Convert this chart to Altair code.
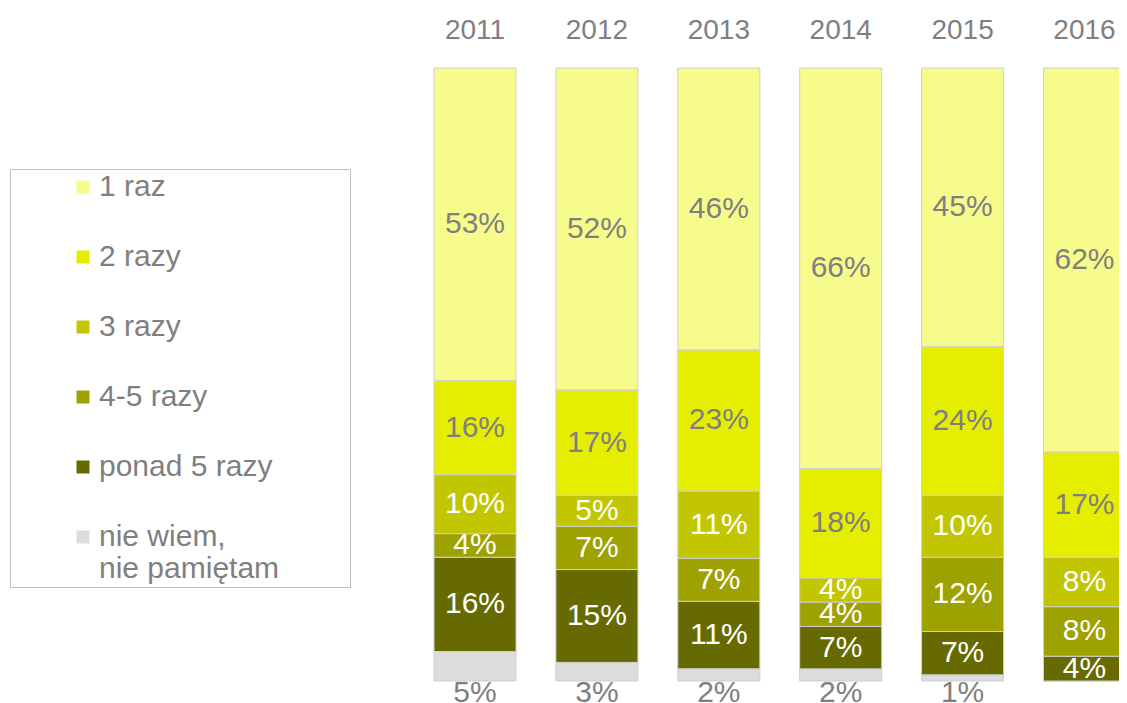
import altair as alt
import pandas as pd

years = ["2011", "2012", "2013", "2014", "2015", "2016"]
categories = ["1 raz", "2 razy", "3 razy", "4-5 razy", "ponad 5 razy", "nie wiem, nie pamiętam"]
v_1raz = [53, 52, 46, 66, 45, 62]
v_2razy = [16, 17, 23, 18, 24, 17]
v_3razy = [10, 5, 11, 4, 10, 8]
v_45razy = [4, 7, 7, 4, 12, 8]
v_ponad5 = [16, 15, 11, 7, 7, 4]
v_niewiem = [5, 3, 2, 2, 1, 0]
colors = ["#F7FB8C", "#E6EE00", "#C2C600", "#9EA200", "#666A00", "#DCDCDC"]

series = [v_1raz, v_2razy, v_3razy, v_45razy, v_ponad5, v_niewiem]
rows = []
for yi, yr in enumerate(years):
    vals = [s[yi] for s in series]
    total = float(sum(vals))
    cum = 0.0
    for ci in reversed(range(len(categories))):
        v = vals[ci]
        y0 = cum / total
        cum += v
        y1 = cum / total
        rows.append(dict(year=yr, cat=categories[ci], v=v, y0=y0, y1=y1,
                         mid=(y0 + y1) / 2, label=f"{v}%"))
df = pd.DataFrame(rows)

FONT = "Liberation Sans"
GREY = "#7F7F7F"
NIE = categories[-1]
PAD = "\u00a0" + "\u2800" * 3

yscale = alt.Scale(domain=[0, 1])
base = alt.Chart(df).encode(
    x=alt.X("year:N", sort=years,
            scale=alt.Scale(paddingInner=0.327, paddingOuter=0, range=[0, 691.5]),
            axis=alt.Axis(orient="top", title=None, domain=False, ticks=False, tickSize=0,
                          labelFontSize=28, labelColor=GREY, labelFont=FONT,
                          labelPadding=30, labelBaseline="alphabetic", labelAngle=0))
)

label_expr = (
    "datum.label == 'nie wiem, nie pamiętam' ? ['nie wiem,', 'nie pamiętam'] : "
    "datum.label == 'ponad 5 razy' ? 'ponad 5 razy" + PAD + "' : datum.label"
)

bars = base.mark_bar(stroke="#CFCFCF", strokeWidth=1).encode(
    y=alt.Y("y1:Q", scale=yscale, axis=None),
    y2="y0:Q",
    color=alt.Color("cat:N", sort=categories,
                    scale=alt.Scale(domain=categories, range=colors),
                    legend=alt.Legend(
                        title=None, orient="none", legendX=-424, legendY=101,
                        symbolType="square", symbolSize=169, symbolStrokeWidth=0,
                        labelFontSize=30, labelFont=FONT, labelColor=GREY, labelLimit=800,
                        rowPadding=40, padding=3, strokeColor="#BFBFBF",
                        symbolOffset=55, labelOffset=1,
                        labelExpr=label_expr,
                    )),
)

seg_labels = base.transform_filter(
    f"datum.cat != '{NIE}' && datum.v > 0"
).mark_text(fontSize=30, font=FONT, baseline="middle").encode(
    y=alt.Y("mid:Q", scale=yscale),
    text="label:N",
    color=alt.condition(alt.FieldOneOfPredicate(field="cat", oneOf=["1 raz", "2 razy"]),
                        alt.value(GREY), alt.value("white")),
)

bottom_labels = base.transform_filter(
    f"datum.cat == '{NIE}' && datum.v > 0"
).mark_text(fontSize=30, font=FONT, baseline="top", dy=-3, color=GREY).encode(
    y=alt.Y("y0:Q", scale=yscale),
    text="label:N",
)

chart = alt.layer(bars, seg_labels, bottom_labels).properties(
    width=685, height=613,
    autosize=alt.AutoSizeParams(type="none"),
    padding={"left": 426, "top": 60, "right": 0, "bottom": 22},
).configure_view(strokeWidth=0)

chart.save("out.html", embed_options={"renderer": "svg", "actions": False})
